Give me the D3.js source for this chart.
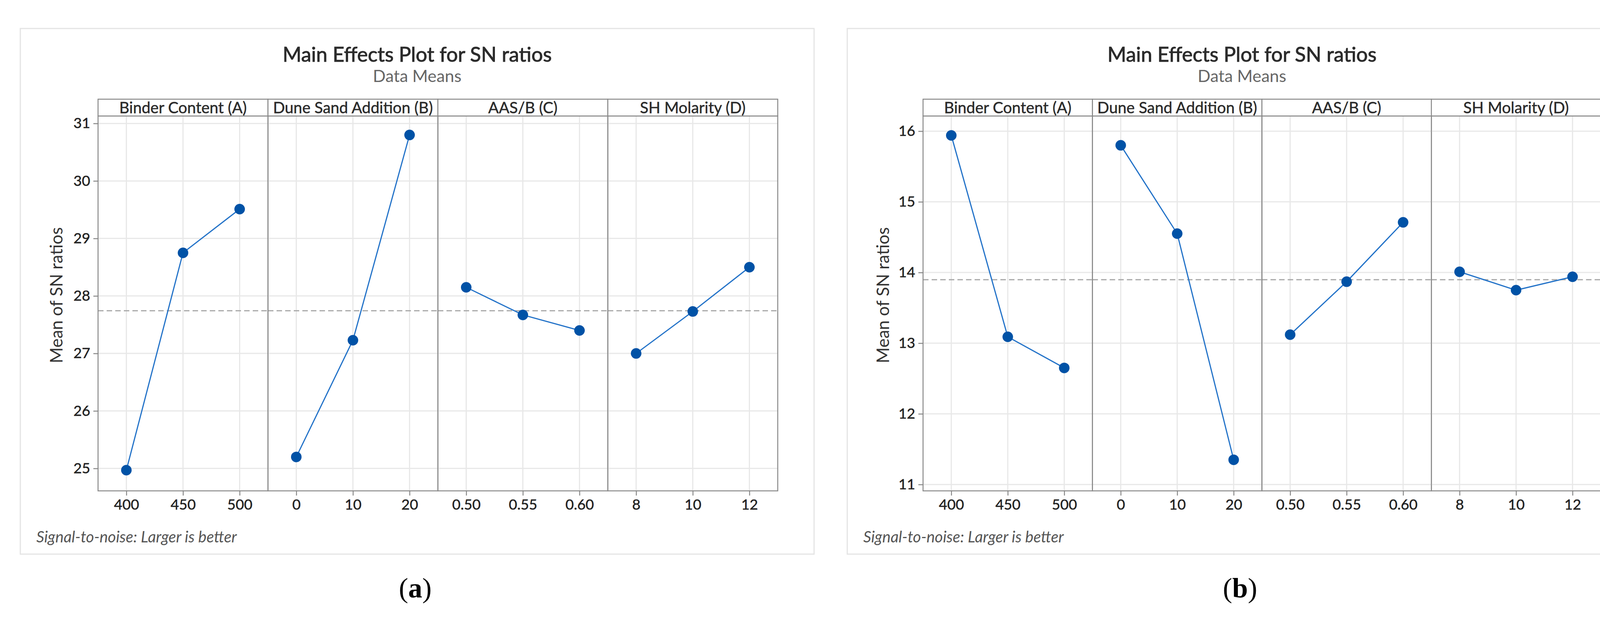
<!DOCTYPE html>
<html>
<head>
<meta charset="utf-8">
<title>Main Effects Plot for SN ratios</title>
<script src="https://cdn.jsdelivr.net/npm/d3@7/dist/d3.min.js"></script>
<style>
    html, body { margin: 0; padding: 0; background: #fff; overflow: hidden; }
    svg { display: block; }
    .mtb { font-family: Lato, "Open Sans", "Noto Sans", sans-serif; }
    .tick text { font-family: Lato, "Open Sans", sans-serif; font-size: 37px; fill: #222; stroke: #222; stroke-width: 0.6; }
    .tick line { stroke: #888; stroke-width: 2.5; }
    .domain { display: none; }
</style>
</head>
<body>
<div id="chart"></div>
<script>
// factors and levels shared by both plots
const factors = ["Binder Content (A)", "Dune Sand Addition (B)", "AAS/B (C)", "SH Molarity (D)"];
const levels = [
    ["400", "450", "500"],
    ["0", "10", "20"],
    ["0.50", "0.55", "0.60"],
    ["8", "10", "12"]
];

// mean SN ratio per level, plot (a)
const snMeansA = [
    [24.97, 28.75, 29.51],
    [25.20, 27.23, 30.80],
    [28.15, 27.67, 27.40],
    [27.00, 27.73, 28.50]
];
// mean SN ratio per level, plot (b)
const snMeansB = [
    [15.94, 13.09, 12.65],
    [15.80, 14.55, 11.35],
    [13.12, 13.87, 14.71],
    [14.01, 13.75, 13.94]
];

const yTicksA = [25, 26, 27, 28, 29, 30, 31];
const yTicksB = [11, 12, 13, 14, 15, 16];
const yDomainA = [24.61, 31.13];
const yDomainB = [10.91, 16.215];

const W = 4250, H = 1621;

const svg = d3.select("#chart").append("svg")
    .attr("width", W)
    .attr("height", H)
    .attr("class", "mtb");

const plots = [
    { values: snMeansA, ticks: yTicksA, domain: yDomainA, label: "a",
      frame: [52, 2084], panelLeft: 251, panelRight: 1991, yLabelX: 145 },
    { values: snMeansB, ticks: yTicksB, domain: yDomainB, label: "b",
      frame: [2169, 4190], panelLeft: 2363, panelRight: 4098, yLabelX: 2261 }
];

const frameTop = 73, frameBottom = 1419;
const stripTop = 254, plotTop = 297, plotBottom = 1257;

plots.forEach(p => drawPlot(p));

function drawPlot(p) {
    const g = svg.append("g");
    const cx = (p.frame[0] + p.frame[1]) / 2;

    // outer frame
    g.append("rect")
        .attr("x", p.frame[0]).attr("y", frameTop)
        .attr("width", p.frame[1] - p.frame[0]).attr("height", frameBottom - frameTop)
        .attr("fill", "none").attr("stroke", "#e4e4e4").attr("stroke-width", 3);

    g.append("text")
        .attr("x", cx).attr("y", 158)
        .attr("text-anchor", "middle")
        .attr("font-size", 52).attr("fill", "#2b2b2b")
        .attr("stroke", "#2b2b2b").attr("stroke-width", 1.1)
        .text("Main Effects Plot for SN ratios");

    g.append("text")
        .attr("x", cx).attr("y", 210)
        .attr("text-anchor", "middle")
        .attr("font-size", 43).attr("fill", "#666")
        .text("Data Means");

    const xPanel = d3.scaleBand()
        .domain(factors)
        .range([p.panelLeft, p.panelRight]);

    const y = d3.scaleLinear()
        .domain(p.domain)
        .range([plotBottom, plotTop]);

    const grandMean = d3.mean(p.values.flat());

    // y axis
    g.append("g")
        .attr("transform", `translate(${p.panelLeft},0)`)
        .call(d3.axisLeft(y).tickValues(p.ticks).tickSize(12).tickPadding(8).tickFormat(d3.format("d")));

    factors.forEach((f, i) => {
        const x0 = xPanel(f);
        const bw = xPanel.bandwidth();
        const x = d3.scalePoint()
            .domain(levels[i])
            .range([0, bw])
            .padding(0.5);

        const pg = g.append("g").attr("transform", `translate(${x0},0)`);

        // gridlines
        pg.selectAll(".hgrid").data(p.ticks).enter().append("line")
            .attr("x1", 0).attr("x2", bw)
            .attr("y1", d => y(d)).attr("y2", d => y(d))
            .attr("stroke", "#e8e8e8").attr("stroke-width", 3);
        pg.selectAll(".vgrid").data(levels[i]).enter().append("line")
            .attr("x1", d => x(d)).attr("x2", d => x(d))
            .attr("y1", plotTop).attr("y2", plotBottom)
            .attr("stroke", "#e8e8e8").attr("stroke-width", 3);

        // reference line at the overall mean
        pg.append("line")
            .attr("x1", 0).attr("x2", bw)
            .attr("y1", y(grandMean)).attr("y2", y(grandMean))
            .attr("stroke", "#a8a8a8").attr("stroke-width", 3)
            .attr("stroke-dasharray", "14,8");

        const pts = levels[i].map((lv, j) => ({ lv, v: p.values[i][j] }));

        pg.append("path")
            .datum(pts)
            .attr("fill", "none")
            .attr("stroke", "#2272c8")
            .attr("stroke-width", 3)
            .attr("d", d3.line().x(d => x(d.lv)).y(d => y(d.v)));

        pg.selectAll("circle").data(pts).enter().append("circle")
            .attr("cx", d => x(d.lv)).attr("cy", d => y(d.v))
            .attr("r", 13.5)
            .attr("fill", "#0052a6");

        // panel and strip borders
        pg.append("rect")
            .attr("x", 0).attr("y", plotTop)
            .attr("width", bw).attr("height", plotBottom - plotTop)
            .attr("fill", "none").attr("stroke", "#888").attr("stroke-width", 2.5);
        pg.append("rect")
            .attr("x", 0).attr("y", stripTop)
            .attr("width", bw).attr("height", plotTop - stripTop)
            .attr("fill", "#fff").attr("stroke", "#888").attr("stroke-width", 2.5);
        pg.append("text")
            .attr("x", bw / 2).attr("y", 290)
            .attr("text-anchor", "middle")
            .attr("font-size", 40).attr("fill", "#2b2b2b")
            .attr("stroke", "#2b2b2b").attr("stroke-width", 0.6)
            .text(f);

        // x axis
        const ax = pg.append("g")
            .attr("transform", `translate(0,${plotBottom})`)
            .call(d3.axisBottom(x).tickSize(12));
        ax.selectAll("text").attr("y", 48).attr("dy", null);
    });

    g.append("text")
        .attr("transform", `translate(${p.yLabelX},756) rotate(-90)`)
        .attr("text-anchor", "middle")
        .attr("dy", "0.35em")
        .attr("font-size", 44).attr("fill", "#333")
        .text("Mean of SN ratios");

    g.append("text")
        .attr("x", p.frame[0] + 41).attr("y", 1389)
        .attr("font-size", 40).attr("font-style", "italic").attr("fill", "#555")
        .text("Signal-to-noise: Larger is better");

    const lab = g.append("text")
        .attr("x", cx - 5).attr("y", 1530)
        .attr("text-anchor", "middle")
        .attr("font-family", "'Liberation Serif', 'Times New Roman', serif")
        .attr("font-size", 72).attr("fill", "#000");
    lab.append("tspan").text("(");
    lab.append("tspan").attr("font-weight", "bold").text(p.label);
    lab.append("tspan").text(")");
}
</script>
</body>
</html>
